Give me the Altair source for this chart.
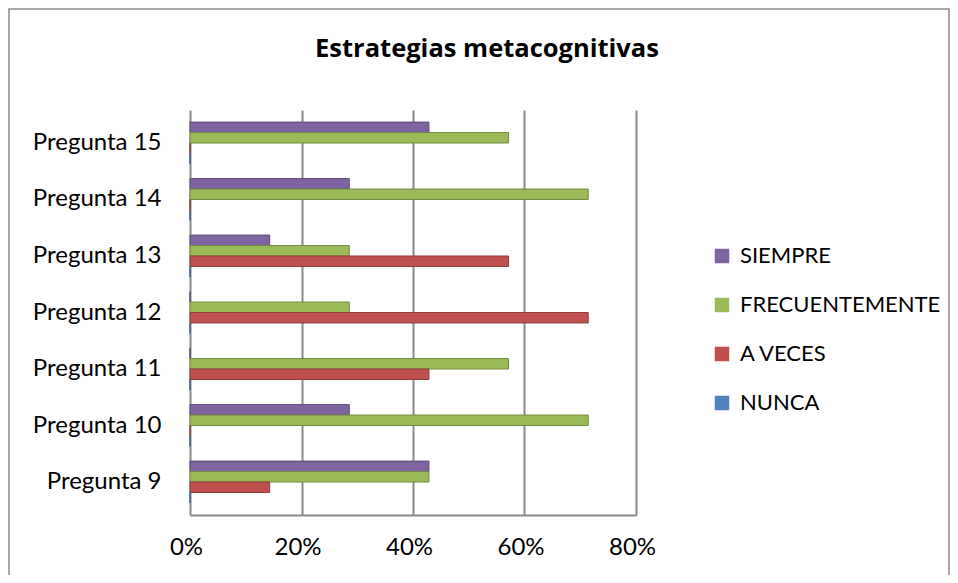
import altair as alt
import pandas as pd

preguntas = ["Pregunta 9", "Pregunta 10", "Pregunta 11", "Pregunta 12", "Pregunta 13", "Pregunta 14", "Pregunta 15"]
series = ["SIEMPRE", "FRECUENTEMENTE", "A VECES", "NUNCA"]
colores = ["#8064A2", "#9BBB59", "#C0504D", "#4F81BD"]
bordes = ["#5f4a7a", "#73893f", "#8f3a38", "#3a5f8c"]
nunca = [0, 0, 0, 0, 0, 0, 0]
a_veces = [14.29, 0, 42.86, 71.43, 57.14, 0, 0]
frecuentemente = [42.86, 71.43, 57.14, 28.57, 28.57, 71.43, 57.14]
siempre = [42.86, 28.57, 0, 0, 14.29, 28.57, 42.86]
ticks = [0, 0.2, 0.4, 0.6, 0.8]
titulo = "Estrategias metacognitivas"

rows = []
for s, vals in zip(series, [siempre, frecuentemente, a_veces, nunca]):
    for p, v in zip(preguntas, vals):
        rows.append({"pregunta": p, "serie": s, "valor": v / 100})
df = pd.DataFrame(rows)

FONT = "Lato"

bars = alt.Chart(df).mark_bar(strokeWidth=1).encode(
    x=alt.X("valor:Q", scale=alt.Scale(domain=[0, 0.8], nice=False),
            axis=alt.Axis(values=ticks, format="%", title=None, grid=True,
                          gridColor="#8a8a8a", gridWidth=2, domainColor="#8a8a8a",
                          domainWidth=2, ticks=False, labelFontSize=24,
                          labelPadding=20, labelOffset=-4, labelFlush=False,
                          labelColor="#000", labelFont=FONT)),
    y=alt.Y("pregunta:N", sort=preguntas[::-1],
            scale=alt.Scale(paddingInner=0.26, paddingOuter=0.214),
            axis=alt.Axis(title=None, domain=False, ticks=False, labelFontSize=24,
                          labelPadding=29, labelColor="#000", labelFont=FONT)),
    yOffset=alt.YOffset("serie:N", sort=series, scale=alt.Scale(domain=series, paddingInner=0, paddingOuter=0)),
    color=alt.Color("serie:N", scale=alt.Scale(domain=series, range=colores),
                    legend=alt.Legend(title=None, orient="none", legendX=521, legendY=135,
                                      symbolType="square", symbolSize=210, symbolStrokeWidth=0,
                                      labelFontSize=22, labelFont=FONT, labelColor="#000",
                                      labelLimit=400, rowPadding=27, labelOffset=7)),
    stroke=alt.Stroke("serie:N", scale=alt.Scale(domain=series, range=bordes), legend=None),
)

title = alt.Chart(alt.Data(values=[{"t": titulo}])).mark_text(
    font="Open Sans", fontSize=25.5, fontWeight="bold", color="#000", baseline="alphabetic", align="center"
).encode(text="t:N", x=alt.value(297), y=alt.value(-53))

border = alt.Chart(alt.Data(values=[{}])).mark_rect(fill=None, stroke="#8a8a8a", strokeWidth=1.5).encode(
    x=alt.value(-181), x2=alt.value(759), y=alt.value(-101), y2=alt.value(480)
)

chart = alt.layer(border, title, bars).properties(
    width=446, height=405,
    padding={"left": 182, "top": 102, "right": 314, "bottom": 60},
    autosize=alt.AutoSizeParams(type="none"),
).configure_view(stroke=None)

chart.save("out.html", embed_options={"renderer": "svg", "actions": False})
